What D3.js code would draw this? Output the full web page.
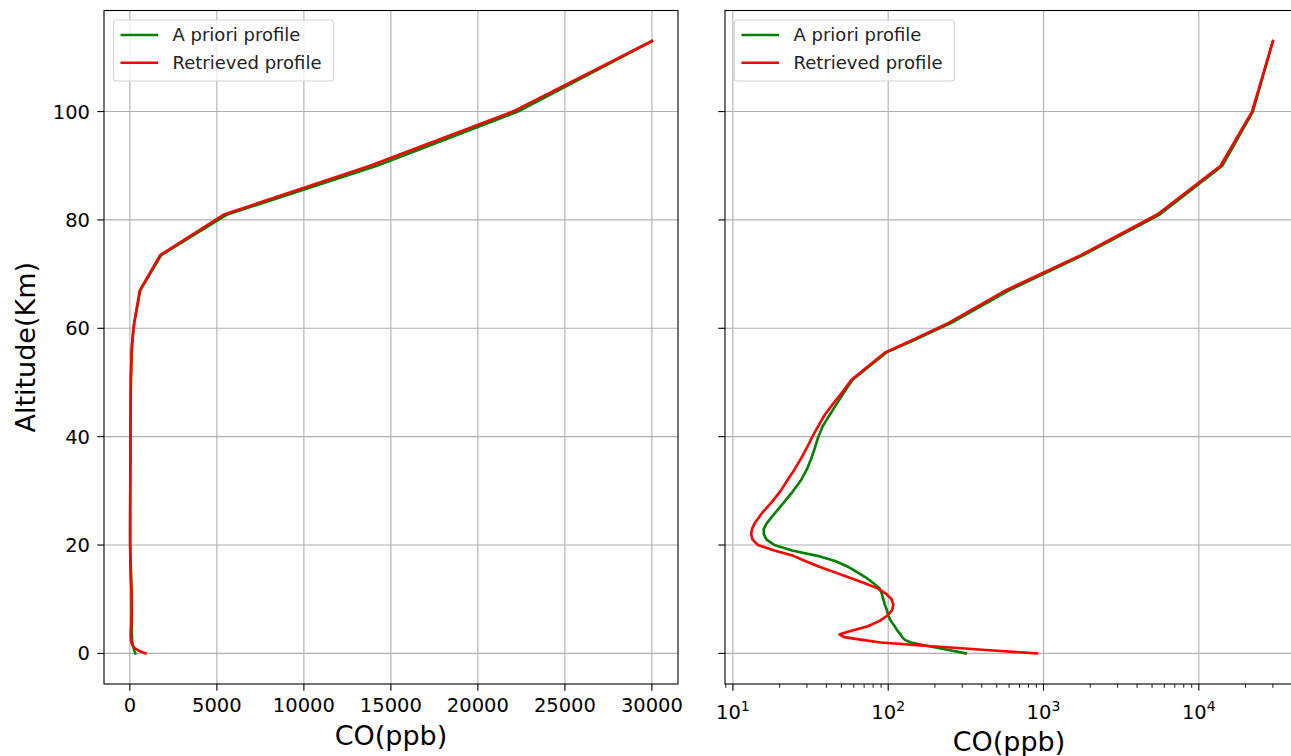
<!DOCTYPE html>
<html lang="en">
  <head>
    <meta charset="UTF-8" />
    <title>CO profile</title>
    <script src="https://d3js.org/d3.v7.min.js"></script>
    <style>
      body {
        margin: 0;
        background: #fff;
        font-family: "DejaVu Sans", sans-serif;
      }
    </style>
  </head>
  <body>
    <div id="chart"></div>
    <script>
      // altitude levels (km) shared by both profiles
      const altitude = [
        0, 0.5, 1, 1.5, 2, 2.5, 3, 3.5, 4, 5, 6, 7, 8, 9, 10, 11, 12, 13, 14,
        15, 16, 17, 18, 19, 20, 21, 22, 23, 24, 26, 28, 30, 32, 34, 36, 38, 40,
        42, 44, 46, 48, 50.5, 55.5, 58, 61, 67, 73.5, 81, 90, 100, 113,
      ];
      const apriori = [
        316, 260, 210, 170, 140, 128, 123, 120, 116, 110, 104, 100, 98, 95, 93,
        91, 88, 80, 72, 63, 55, 46, 35, 24, 18.5, 16.5, 15.8, 15.8, 16.5, 18.8,
        21.5, 24.5, 27.5, 30, 32, 33.8, 35.5, 38, 42, 46.5, 51.5, 59, 97, 152,
        255, 600, 1800, 5600, 14200, 22300, 30000,
      ];
      const retrieved = [
        906, 502, 279, 155, 90, 68, 52, 48.5, 55, 74, 88, 99, 106, 108, 105,
        97, 85.5, 70, 56, 45, 36, 29.5, 24.5, 18.5, 14.5, 13.4, 13.1, 13.3,
        13.8, 15.5, 17.9, 20.3, 22.5, 25, 27.5, 30, 32.5, 35.5, 39, 44, 50, 58,
        95, 147, 245, 570, 1740, 5400, 13800, 22000, 30000,
      ];
      const linTicks = [0, 5000, 10000, 15000, 20000, 25000, 30000];
      const altTicks = [0, 20, 40, 60, 80, 100];
      const logTicks = [10, 100, 1000, 10000];
      const seriesNames = ["A priori profile", "Retrieved profile"];
      const seriesColors = ["green", "red"];

      const W = 1291,
        H = 756;
      const plotTop = 10.5,
        plotBottom = 684;
      const panels = [
        { left: 104, right: 678, type: "lin" },
        { left: 725, right: 1299, type: "log" },
      ];

      const svg = d3
        .select("#chart")
        .append("svg")
        .attr("width", W)
        .attr("height", H)
        .style("font-family", "'DejaVu Sans', sans-serif");

      const allVals = apriori.concat(retrieved);
      const vMin = d3.min(allVals),
        vMax = d3.max(allVals);
      const aMin = d3.min(altitude),
        aMax = d3.max(altitude);
      const aPad = (aMax - aMin) * 0.05;

      const y = d3
        .scaleLinear()
        .domain([aMin - aPad, aMax + aPad])
        .range([plotBottom, plotTop]);

      const series = [apriori, retrieved].map((vals, i) => ({
        name: seriesNames[i],
        color: seriesColors[i],
        pts: altitude.map((a, k) => ({ alt: a, v: vals[k] })),
      }));

      panels.forEach((p, pi) => {
        let x;
        if (p.type === "lin") {
          const pad = (vMax - vMin) * 0.05;
          x = d3
            .scaleLinear()
            .domain([vMin - pad, vMax + pad])
            .range([p.left, p.right]);
        } else {
          const l0 = Math.log10(vMin),
            l1 = Math.log10(vMax);
          const pad = (l1 - l0) * 0.05;
          x = d3
            .scaleLog()
            .domain([Math.pow(10, l0 - pad), Math.pow(10, l1 + pad)])
            .range([p.left, p.right]);
        }

        const g = svg.append("g");
        const clipId = "clip" + pi;
        svg
          .append("clipPath")
          .attr("id", clipId)
          .append("rect")
          .attr("x", p.left)
          .attr("y", plotTop)
          .attr("width", p.right - p.left)
          .attr("height", plotBottom - plotTop);

        const xTicks = p.type === "lin" ? linTicks : logTicks;

        // grid
        const grid = g
          .append("g")
          .attr("clip-path", `url(#${clipId})`)
          .attr("stroke", "#b0b0b0")
          .attr("stroke-width", 1.1);
        grid
          .selectAll("line.gx")
          .data(xTicks)
          .join("line")
          .attr("class", "gx")
          .attr("x1", (d) => x(d))
          .attr("x2", (d) => x(d))
          .attr("y1", plotTop)
          .attr("y2", plotBottom);
        grid
          .selectAll("line.gy")
          .data(altTicks)
          .join("line")
          .attr("class", "gy")
          .attr("x1", p.left)
          .attr("x2", p.right)
          .attr("y1", (d) => y(d))
          .attr("y2", (d) => y(d));

        // profiles
        const line = d3
          .line()
          .x((d) => x(d.v))
          .y((d) => y(d.alt));
        g.append("g")
          .attr("clip-path", `url(#${clipId})`)
          .selectAll("path")
          .data(series)
          .join("path")
          .attr("fill", "none")
          .attr("stroke", (d) => d.color)
          .attr("stroke-width", 2.6)
          .attr("stroke-linejoin", "round")
          .attr("stroke-linecap", "square")
          .attr("d", (d) => line(d.pts));

        // spines
        g.append("rect")
          .attr("x", p.left)
          .attr("y", plotTop)
          .attr("width", p.right - p.left)
          .attr("height", plotBottom - plotTop)
          .attr("fill", "none")
          .attr("stroke", "#000")
          .attr("stroke-width", 1.1);

        // y ticks
        g.selectAll("line.yt")
          .data(altTicks)
          .join("line")
          .attr("class", "yt")
          .attr("x1", p.left - 6.7)
          .attr("x2", p.left)
          .attr("y1", (d) => y(d))
          .attr("y2", (d) => y(d))
          .attr("stroke", "#000")
          .attr("stroke-width", 1.1);
        if (pi === 0) {
          g.selectAll("text.yl")
            .data(altTicks)
            .join("text")
            .attr("class", "yl")
            .attr("x", p.left - 14)
            .attr("y", (d) => y(d))
            .attr("dy", "0.36em")
            .attr("text-anchor", "end")
            .attr("font-size", 19.5)
            .text((d) => d);
          g.append("text")
            .attr(
              "transform",
              `translate(35,${(plotTop + plotBottom) / 2}) rotate(-90)`
            )
            .attr("text-anchor", "middle")
            .attr("font-size", 27)
            .text("Altitude(Km)");
        }

        // x ticks
        if (p.type === "log") {
          const dom = x.domain();
          const minor = [];
          for (let e = 0; e <= 5; e++) {
            for (let m = 2; m <= 9; m++) {
              const v = m * Math.pow(10, e);
              if (v > dom[0] && v < dom[1]) minor.push(v);
            }
          }
          g.selectAll("line.mt")
            .data(minor)
            .join("line")
            .attr("class", "mt")
            .attr("x1", (d) => x(d))
            .attr("x2", (d) => x(d))
            .attr("y1", plotBottom)
            .attr("y2", plotBottom + 3.8)
            .attr("stroke", "#000")
            .attr("stroke-width", 0.9);
        }
        g.selectAll("line.xt")
          .data(xTicks)
          .join("line")
          .attr("class", "xt")
          .attr("x1", (d) => x(d))
          .attr("x2", (d) => x(d))
          .attr("y1", plotBottom)
          .attr("y2", plotBottom + 6.7)
          .attr("stroke", "#000")
          .attr("stroke-width", 1.1);

        const xl = g
          .selectAll("text.xl")
          .data(xTicks)
          .join("text")
          .attr("class", "xl")
          .attr("x", (d) => x(d))
          .attr("text-anchor", "middle")
          .attr("font-size", 19.5);
        if (p.type === "lin") {
          xl.attr("y", 712).text((d) => d);
        } else {
          xl.attr("y", 719).each(function (d) {
            const t = d3.select(this);
            t.append("tspan").text("10");
            t.append("tspan")
              .attr("dy", -8)
              .attr("font-size", 14)
              .text(Math.round(Math.log10(d)));
          });
        }

        g.append("text")
          .attr("x", (p.left + p.right) / 2 - (pi === 1 ? 3 : 0))
          .attr("y", pi === 0 ? 745 : 751)
          .attr("text-anchor", "middle")
          .attr("font-size", 27)
          .text("CO(ppb)");

        // legend
        const lg = g
          .append("g")
          .attr("transform", `translate(${p.left + 9.5},20)`);
        lg.append("rect")
          .attr("width", 220)
          .attr("height", 61)
          .attr("rx", 3)
          .attr("fill", "#fff")
          .attr("fill-opacity", 0.8)
          .attr("stroke", "#d6d6d6")
          .attr("stroke-width", 1.1);
        series.forEach((s, i) => {
          const ly = 15 + i * 27.7;
          lg.append("line")
            .attr("x1", 7)
            .attr("x2", 44.5)
            .attr("y1", ly)
            .attr("y2", ly)
            .attr("stroke", s.color)
            .attr("stroke-width", 2.6);
          lg.append("text")
            .attr("x", 59)
            .attr("y", ly)
            .attr("dy", "0.36em")
            .attr("font-size", 18)
            .attr("fill", "#222")
            .text(s.name);
        });
      });
    </script>
  </body>
</html>
